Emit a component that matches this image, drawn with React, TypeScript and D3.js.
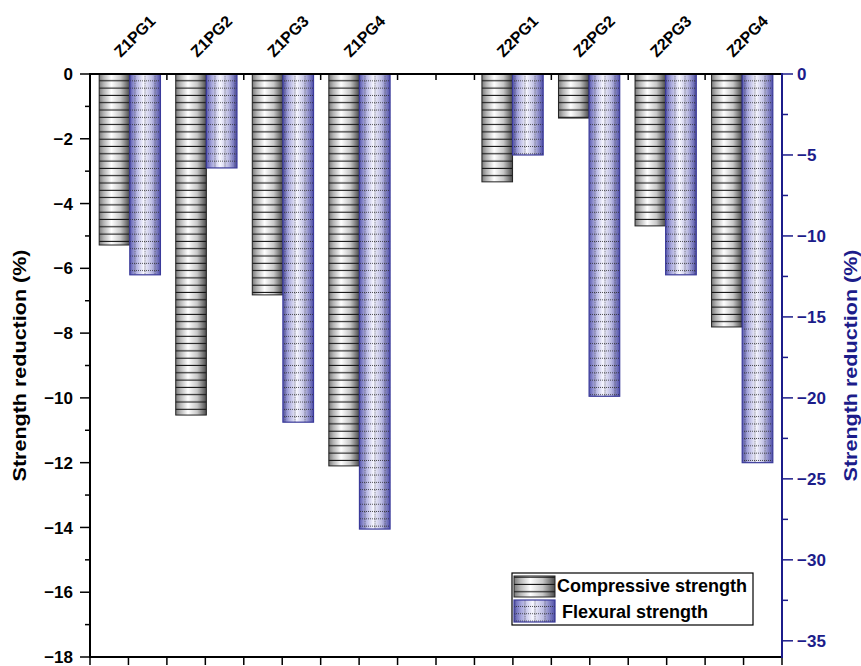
import React from "react";
import * as d3 from "d3";

const categories = ["Z1PG1", "Z1PG2", "Z1PG3", "Z1PG4", "", "Z2PG1", "Z2PG2", "Z2PG3", "Z2PG4"];
const compressive: (number | null)[] = [-5.28, -10.53, -6.82, -12.1, null, -3.33, -1.36, -4.69, -7.81];
const flexural: (number | null)[] = [-12.4, -5.8, -21.5, -28.1, null, -5.0, -19.9, -12.4, -24.0];
const leftTicks = [0, -2, -4, -6, -8, -10, -12, -14, -16, -18];
const rightTicks = [0, -5, -10, -15, -20, -25, -30, -35];
const seriesNames = ["Compressive strength", "Flexural strength"];

const W = 861, H = 666;
const L = 90, R = 782, T = 74, B = 657;
const BLUE = "#1c1c8a";
const FONT = "'Liberation Sans', Arial, sans-serif";

export default function App() {
  const x = d3.scaleBand<string>().domain(categories.map((c, i) => c + "_" + i)).range([L, R]).paddingInner(0.2).paddingOuter(0.12);
  const xs = d3.scaleBand<string>().domain(["c", "f"]).range([0, x.bandwidth()]).padding(0);
  const xLin = d3.scaleLinear().domain([0, categories.length]).range([L, R]);
  const yL = d3.scaleLinear().domain([0, -18]).range([T, B]);
  const yR = d3.scaleLinear().domain([0, -36]).range([T, B]);
  const halfTicks = d3.range(0, categories.length * 2 + 1).map((k) => k / 2);
  const leftMinor = d3.range(-1, -18, -2);
  const rightMinor = d3.range(-2.5, -36, -5);

  return (
    <svg width={W} height={H} style={{ display: "block", position: "absolute", left: 0, top: 0 }} fontFamily={FONT}>
      <defs>
        <linearGradient id="gComp" x1="0" x2="1" y1="0" y2="0">
          <stop offset="0%" stopColor="#7a7a7a" />
          <stop offset="15%" stopColor="#b5b5b5" />
          <stop offset="40%" stopColor="#ffffff" />
          <stop offset="70%" stopColor="#c8c8c8" />
          <stop offset="100%" stopColor="#4a4a4a" />
        </linearGradient>
        <linearGradient id="gFlex" x1="0" x2="1" y1="0" y2="0">
          <stop offset="0%" stopColor="#5a5ab0" />
          <stop offset="18%" stopColor="#a8a8dc" />
          <stop offset="45%" stopColor="#f6f6ff" />
          <stop offset="72%" stopColor="#bcbce2" />
          <stop offset="100%" stopColor="#5050a8" />
        </linearGradient>
        <pattern id="pComp" patternUnits="userSpaceOnUse" x="0" y={T} width="10" height="7.3">
          <line x1="0" x2="10" y1="6.8" y2="6.8" stroke="#111" strokeWidth="1.1" />
        </pattern>
        <pattern id="pFlex" patternUnits="userSpaceOnUse" x="0" y={T} width="10" height="7.3">
          <line x1="0" x2="10" y1="6.8" y2="6.8" stroke="#222" strokeWidth="0.8" strokeDasharray="1,1" />
          <line x1="5" x2="5" y1="0" y2="7.3" stroke="#333" strokeWidth="0.8" strokeDasharray="1,1" opacity="0.8" />
        </pattern>
      </defs>

      {/* ticks on top axis (inside) */}
      {halfTicks.map((t) => (
        <line key={"tt" + t} x1={xLin(t)} x2={xLin(t)} y1={T} y2={T + 6} stroke="#000" strokeWidth={1.5} />
      ))}

      {/* bars */}
      {categories.map((c, i) => {
        const x0 = x(c + "_" + i)!;
        const out: React.ReactNode[] = [];
        const cv = compressive[i];
        const fv = flexural[i];
        if (cv !== null) {
          const bx = x0 + xs("c")!, bw = xs.bandwidth(), by = yL(0), bh = yL(cv) - yL(0);
          out.push(
            <g key={"c" + i}>
              <rect x={bx} y={by} width={bw} height={bh} fill="url(#gComp)" />
              <rect x={bx} y={by} width={bw} height={bh} fill="url(#pComp)" />
              <rect x={bx} y={by} width={bw} height={bh} fill="none" stroke="#222" strokeWidth={1} />
            </g>
          );
        }
        if (fv !== null) {
          const bx = x0 + xs("f")!, bw = xs.bandwidth(), by = yR(0), bh = yR(fv) - yR(0);
          out.push(
            <g key={"f" + i}>
              <rect x={bx} y={by} width={bw} height={bh} fill="url(#gFlex)" />
              <rect x={bx} y={by} width={bw} height={bh} fill="url(#pFlex)" />
              <rect x={bx} y={by} width={bw} height={bh} fill="none" stroke="#3a3a9a" strokeWidth={1.2} />
            </g>
          );
        }
        return out;
      })}

      {/* top axis line */}
      <line x1={L} x2={R} y1={T} y2={T} stroke="#000" strokeWidth={2} />
      {/* top category labels */}
      {categories.map((c, i) =>
        c ? (
          <text key={"lab" + i} x={0} y={0} fontSize={16} fontWeight="bold"
            transform={`translate(${x(c + "_" + i)! + x.bandwidth() / 2 - 9},${T - 16}) rotate(-45)`}>
            {c}
          </text>
        ) : null
      )}

      {/* bottom axis */}
      <line x1={L - 1} x2={R} y1={B} y2={B} stroke="#000" strokeWidth={2} />
      {halfTicks.map((t) => (
        <line key={"bt" + t} x1={xLin(t)} x2={xLin(t)} y1={B} y2={B + 8} stroke="#000" strokeWidth={1.5} />
      ))}

      {/* left axis */}
      <line x1={L} x2={L} y1={T - 1} y2={B + 1} stroke="#000" strokeWidth={2} />
      {leftTicks.map((t) => (
        <g key={"lt" + t}>
          <line x1={L - 10} x2={L} y1={yL(t)} y2={yL(t)} stroke="#000" strokeWidth={1.5} />
          <text x={L - 17} y={yL(t)} dy="0.36em" textAnchor="end" fontSize={17} fontWeight="bold">
            {t === 0 ? "0" : "\u2212" + Math.abs(t)}
          </text>
        </g>
      ))}
      {leftMinor.map((t) => (
        <line key={"lm" + t} x1={L - 5} x2={L} y1={yL(t)} y2={yL(t)} stroke="#000" strokeWidth={1.5} />
      ))}
      <text transform={`translate(26,${(T + B) / 2}) rotate(-90)`} textAnchor="middle" fontSize={18} fontWeight="bold"
        textLength={232} lengthAdjust="spacingAndGlyphs">
        Strength reduction (%)
      </text>

      {/* right axis */}
      <line x1={R} x2={R} y1={T - 1} y2={B + 1} stroke={BLUE} strokeWidth={2} />
      {rightTicks.map((t) => (
        <g key={"rt" + t}>
          <line x1={R} x2={R + 11} y1={yR(t)} y2={yR(t)} stroke={BLUE} strokeWidth={1.5} />
          <text x={R + 15} y={yR(t)} dy="0.36em" textAnchor="start" fontSize={17} fontWeight="bold" fill={BLUE}>
            {t === 0 ? "0" : "\u2212" + Math.abs(t)}
          </text>
        </g>
      ))}
      {rightMinor.map((t) => (
        <line key={"rm" + t} x1={R} x2={R + 6} y1={yR(t)} y2={yR(t)} stroke={BLUE} strokeWidth={1.5} />
      ))}
      <text transform={`translate(857,${(T + B) / 2}) rotate(-90)`} textAnchor="middle" fontSize={18} fontWeight="bold" fill={BLUE}
        textLength={232} lengthAdjust="spacingAndGlyphs">
        Strength reduction (%)
      </text>

      {/* legend */}
      <g>
        <rect x={512} y={573} width={241} height={52} fill="#fff" stroke="#000" strokeWidth={1.2} />
        <rect x={514} y={576} width={41} height={21} fill="url(#gComp)" />
        <rect x={514} y={576} width={41} height={21} fill="url(#pComp)" />
        <rect x={514} y={576} width={41} height={21} fill="none" stroke="#222" strokeWidth={1} />
        <text x={557} y={592} fontSize={18} fontWeight="bold">{seriesNames[0]}</text>
        <rect x={514} y={600} width={41} height={22} fill="url(#gFlex)" />
        <rect x={514} y={600} width={41} height={22} fill="url(#pFlex)" />
        <rect x={514} y={600} width={41} height={22} fill="none" stroke="#3a3a9a" strokeWidth={1.2} />
        <text x={562} y={618} fontSize={18} fontWeight="bold">{seriesNames[1]}</text>
      </g>
    </svg>
  );
}
